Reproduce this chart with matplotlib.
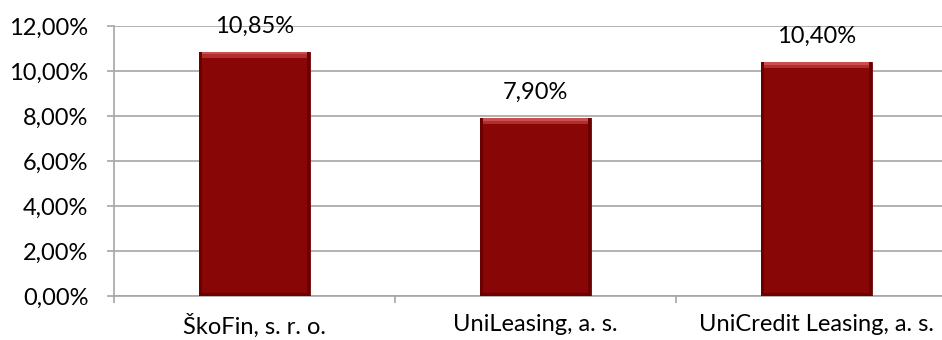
import matplotlib
matplotlib.use("Agg")
import matplotlib.pyplot as plt
from matplotlib.ticker import FuncFormatter, MultipleLocator, FixedLocator

categories = ["ŠkoFin, s. r. o.", "UniLeasing, a. s.", "UniCredit Leasing, a. s."]
values = [10.85, 7.90, 10.40]

plt.rcParams['font.family'] = ['Lato', 'DejaVu Sans']

fig = plt.figure(figsize=(9.42, 3.4), dpi=100)
ax = fig.add_axes([114/942, 1 - 296/340, (957 - 114)/942, (296 - 26)/340])

x = list(range(len(categories)))
W = 0.395
ax.bar(x, values, width=W, color="#880606", edgecolor="#700202", linewidth=0.6, zorder=3)
# bevel: lighter top strip and darker side strips
bev = 0.25
sw = 0.012
ax.bar(x, [bev] * len(values), bottom=[v - bev for v in values], width=W,
       color="#b02e2e", linewidth=0, zorder=4)
ax.bar(x, [bev * 0.45] * len(values), bottom=[v - bev * 0.45 for v in values], width=W,
       color="#cc4d4d", linewidth=0, zorder=4)
ax.bar([xi - W / 2 + sw / 2 for xi in x], values, width=sw, color="#6a0000", linewidth=0, zorder=4)
ax.bar([xi + W / 2 - sw / 2 for xi in x], values, width=sw, color="#6a0000", linewidth=0, zorder=4)
ax.bar(x, [0.12] * len(values), width=W, color="#6a0000", linewidth=0, zorder=4)

for xi, v in zip(x, values):
    ax.annotate(f"{v:.2f}%".replace(".", ","), (xi, v), xytext=(0, 13.7), textcoords="offset points",
                ha="center", va="baseline", fontsize=17, color="#000000", zorder=5)

ax.set_xlim(-0.5, 2.5)
ax.set_ylim(0, 12)
ax.yaxis.set_major_locator(MultipleLocator(2))
ax.yaxis.set_major_formatter(FuncFormatter(lambda v, p: f"{v:.2f}%".replace(".", ",")))
ax.grid(axis="y", color="#a6a6a6", linewidth=1.2, zorder=0)

ax.set_xticks(x)
ax.set_xticklabels(categories, fontsize=17)
ax.xaxis.set_minor_locator(FixedLocator([-0.5, 0.5, 1.5, 2.5]))
ax.tick_params(axis="x", which="major", length=0, pad=13)
ax.tick_params(axis="x", which="minor", length=5, color="#a6a6a6", width=1.2)
ax.tick_params(axis="y", length=5, color="#a6a6a6", width=1.2, labelsize=17, pad=13.5)

for s in ["top", "right"]:
    ax.spines[s].set_visible(False)
for s in ["left", "bottom"]:
    ax.spines[s].set_color("#a6a6a6")
    ax.spines[s].set_linewidth(1.2)

fig.savefig("out.png", dpi=100)
